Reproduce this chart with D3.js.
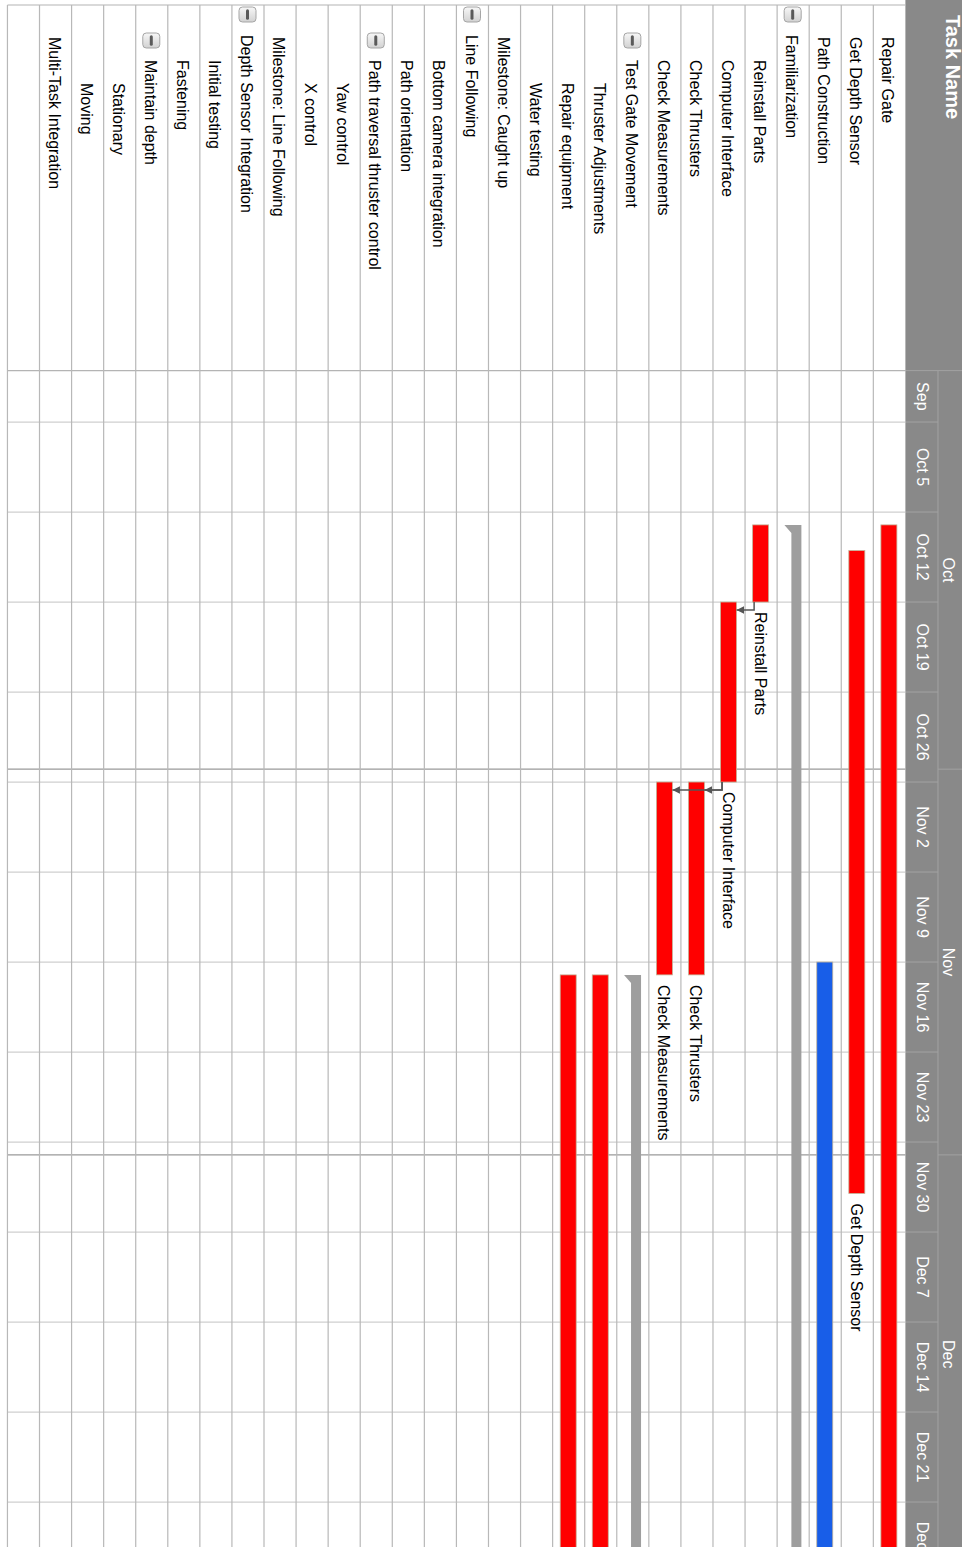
<!DOCTYPE html>
<html>
<head>
<meta charset="utf-8">
<script src="https://cdn.jsdelivr.net/npm/d3@7"></script>
<style>
html,body{margin:0;padding:0;background:#fff;}
svg{display:block;}
text{font-family:"Liberation Sans",Arial,sans-serif;}
</style>
</head>
<body>
<script>
// ---------- DATA ----------
const taskNames = ["Repair Gate","Get Depth Sensor","Path Construction","Familiarization","Reinstall Parts",
  "Computer Interface","Check Thrusters","Check Measurements","Test Gate Movement","Thruster Adjustments",
  "Repair equipment","Water testing","Milestone: Caught up","Line Following","Bottom camera integration",
  "Path orientation","Path traversal thruster control","Yaw control","X control","Milestone: Line Following",
  "Depth Sensor Integration","Initial testing","Fastening","Maintain depth","Stationary","Moving",
  "Multi-Task Integration",""];
const taskLevels = [0,0,0,0,1,1,1,1,1,2,2,2,0,0,1,1,1,2,2,0,0,1,1,1,2,2,0,0];
const groupTasks = ["Familiarization","Test Gate Movement","Line Following","Path traversal thruster control",
  "Depth Sensor Integration","Maintain depth"];

// bars: task, start, end, kind
const barTask  = ["Repair Gate","Get Depth Sensor","Path Construction","Familiarization","Reinstall Parts",
  "Computer Interface","Check Thrusters","Check Measurements","Test Gate Movement","Thruster Adjustments","Repair equipment"];
const barStart = ["2015-10-13","2015-10-15","2015-11-16","2015-10-13","2015-10-13",
  "2015-10-19","2015-11-02","2015-11-02","2015-11-17","2015-11-17","2015-11-17"];
const barEnd   = ["2016-01-20","2015-12-04","2016-01-20","2016-01-20","2015-10-19",
  "2015-11-02","2015-11-17","2015-11-17","2016-01-20","2016-01-20","2016-01-20"];
const barKind  = ["red","red","blue","summary","red","red","red","red","summary","red","red"];

const depFrom = ["Reinstall Parts","Computer Interface","Computer Interface"];
const depTo   = ["Computer Interface","Check Thrusters","Check Measurements"];

const weekLabels  = ["Sep","Oct 5","Oct 12","Oct 19","Oct 26","Nov 2","Nov 9","Nov 16","Nov 23","Nov 30","Dec 7","Dec 14","Dec 21","Dec 28"];
const monthLabels = ["Oct","Nov","Dec"];

// ---------- LAYOUT (original, unrotated: 1547 x 962) ----------
const W = 1547, H = 962;
const headerH = 56.6, monthH = 24, rowH = 32.07, colX = 370.6, leftX = 5;
const parse = d3.utcParse("%Y-%m-%d");
const dayPx = 90/7;
const domStart = Date.UTC(2015,9,1), domEnd = Date.UTC(2016,0,4);
const x = d3.scaleUtc().domain([new Date(domStart), new Date(domEnd)])
  .range([colX, colX + 95*dayPx]);
const rowTop = i => headerH + i*rowH;
const rowIdx = name => taskNames.indexOf(name);
const colors = {red:"#ff0000", blue:"#185ee8", summary:"#9e9e9e"};

const svg = d3.select("body").append("svg").attr("width", H).attr("height", W);
const g = svg.append("g").attr("transform", `translate(${H},0) rotate(90)`);

g.append("rect").attr("x",0).attr("y",0).attr("width",W).attr("height",H).attr("fill","#fff");

// ---------- HEADER ----------
g.append("rect").attr("x",0).attr("y",0).attr("width",W).attr("height",headerH).attr("fill","#898989");
g.append("text").attr("x",15).attr("y",16.5).attr("fill","#fff").attr("font-weight","bold")
  .attr("font-size",20).text("Task Name");
g.append("line").attr("x1",colX).attr("x2",colX).attr("y1",0).attr("y2",headerH).attr("stroke","#a2a2a2");
g.append("line").attr("x1",colX).attr("x2",W).attr("y1",monthH).attr("y2",monthH).attr("stroke","#a2a2a2");

const weeks = d3.utcMonday.range(new Date(Date.UTC(2015,8,28)), new Date(domEnd));
weeks.forEach((d,i)=>{
  const s = Math.max(x(d), colX), e = x(d3.utcDay.offset(d,7));
  if (x(d) > colX) g.append("line").attr("x1",x(d)).attr("x2",x(d)).attr("y1",monthH).attr("y2",headerH).attr("stroke","#a2a2a2");
  g.append("text").attr("x",(s+e)/2).attr("y",45.5).attr("text-anchor","middle").attr("fill","#fff")
    .attr("font-size",16).text(weekLabels[i]);
});
const months = d3.utcMonth.range(new Date(domStart), new Date(domEnd));
months.forEach((d,i)=>{
  const s = x(d), e = x(d3.utcMonth.offset(d,1));
  if (s > colX) g.append("line").attr("x1",s).attr("x2",s).attr("y1",0).attr("y2",monthH).attr("stroke","#a2a2a2");
  g.append("text").attr("x",(s+e)/2).attr("y",19.5).attr("text-anchor","middle").attr("fill","#fff")
    .attr("font-size",16).text(monthLabels[i]);
});

// ---------- GRID ----------
const bottom = rowTop(taskNames.length);
weeks.forEach(d=>{
  if (x(d) > colX) g.append("line").attr("x1",x(d)).attr("x2",x(d)).attr("y1",headerH).attr("y2",bottom)
    .attr("stroke","#cfcfcf").attr("stroke-width",1.2);
});
months.forEach(d=>{
  if (x(d) > colX+1) g.append("line").attr("x1",x(d)).attr("x2",x(d)).attr("y1",headerH).attr("y2",bottom)
    .attr("stroke","#9a9a9a").attr("stroke-width",1.2);
});
g.append("line").attr("x1",colX).attr("x2",colX).attr("y1",headerH).attr("y2",bottom).attr("stroke","#b4b4b4").attr("stroke-width",1.2);
g.append("line").attr("x1",leftX).attr("x2",leftX).attr("y1",headerH).attr("y2",bottom).attr("stroke","#b4b4b4").attr("stroke-width",1.2);
for (let i=1;i<=taskNames.length;i++){
  g.append("line").attr("x1",leftX).attr("x2",W).attr("y1",rowTop(i)).attr("y2",rowTop(i))
    .attr("stroke","#b8b8b8").attr("stroke-width",1.2);
}

// ---------- TASK NAMES ----------
const defs = svg.append("defs");
const grad = defs.append("linearGradient").attr("id","icg").attr("x1",0).attr("y1",0).attr("x2",1).attr("y2",0);
grad.append("stop").attr("offset","0%").attr("stop-color","#f7f7f7");
grad.append("stop").attr("offset","100%").attr("stop-color","#d2d2d2");

taskNames.forEach((name,i)=>{
  if (!name) return;
  const lvl = taskLevels[i], top = rowTop(i);
  const isGroup = groupTasks.includes(name);
  if (isGroup){
    const ix = 7 + 26*lvl;
    g.append("rect").attr("x",ix).attr("y",top+8).attr("width",15).attr("height",17).attr("rx",3.5)
      .attr("fill","url(#icg)").attr("stroke","#a5a5a5");
    g.append("line").attr("x1",ix+3.8).attr("x2",ix+11.2).attr("y1",top+16.5).attr("y2",top+16.5)
      .attr("stroke","#5a5a5a").attr("stroke-width",3).attr("stroke-linecap","round");
  }
  const tx = isGroup ? (lvl===0 ? 35 : 60) : (lvl===0 ? 37 : (lvl===1 ? 60 : 83));
  g.append("text").attr("x",tx).attr("y",top+23).attr("font-size",16).attr("fill","#000").text(name);
});

// ---------- BARS ----------
const bars = barTask.map((t,i)=>({task:t, row:rowIdx(t), s:parse(barStart[i]), e:parse(barEnd[i]), kind:barKind[i]}));
bars.forEach(b=>{
  const top = rowTop(b.row), x0 = x(b.s), x1 = x(b.e);
  if (b.kind === "summary"){
    const y0 = top+7.8, y1 = top+17.8, y2 = top+24.8;
    g.append("path").attr("d",`M${x0},${y0}L${x1},${y0}L${x1},${y1}L${x0+8},${y1}L${x0},${y2}Z`)
      .attr("fill",colors.summary);
  } else {
    g.append("rect").attr("x",x0).attr("y",top+8.5).attr("width",x1-x0).attr("height",16)
      .attr("fill",colors[b.kind]).attr("stroke","#c2b59a").attr("stroke-width",0.8);
    if (x1 + 10 < W) // label only when the bar ends inside the visible timeline
      g.append("text").attr("x",x1+10).attr("y",top+8.5+14).attr("font-size",16).attr("fill","#000").text(b.task);
  }
});

// ---------- DEPENDENCIES ----------
defs.append("marker").attr("id","arr").attr("viewBox","0 0 10 10").attr("refX",10).attr("refY",5)
  .attr("markerWidth",5).attr("markerHeight",5).attr("orient","auto")
  .append("path").attr("d","M0,0L10,5L0,10Z").attr("fill","#555");
depFrom.forEach((f,i)=>{
  const a = bars.find(b=>b.task===f), b = bars.find(b=>b.task===depTo[i]);
  const ax = x(a.e), ay = rowTop(a.row)+8.5+14.5;
  const bx = x(b.s)+8, by = rowTop(b.row)+8.5;
  g.append("path").attr("d",`M${ax},${ay}L${bx},${ay}L${bx},${by}`)
    .attr("fill","none").attr("stroke","#555").attr("stroke-width",1.5).attr("marker-end","url(#arr)");
});
</script>
</body>
</html>
